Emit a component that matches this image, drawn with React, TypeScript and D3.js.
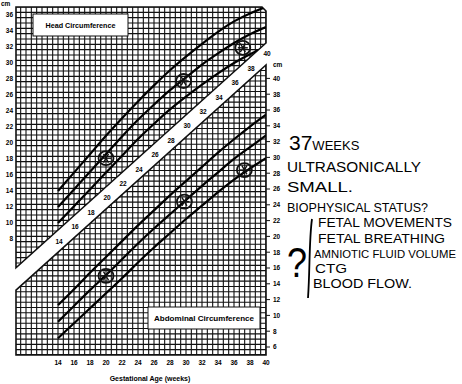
import React from 'react';
import * as d3 from 'd3';

// ---- data ----
const weeks = [14, 16, 18, 20, 22, 24, 26, 28, 30, 32, 34, 36, 38, 40];
const headUpper = [14, 16.3, 18.6, 20.9, 23.1, 25.2, 27.2, 29.1, 30.8, 32.4, 33.9, 35.2, 36.2, 37.0];
const headMiddle = [12, 14.2, 16.4, 18.6, 20.8, 22.9, 24.8, 26.6, 28.2, 29.8, 31.2, 32.5, 33.6, 34.5];
const headLower = [10, 12.1, 14.2, 16.3, 18.4, 20.5, 22.4, 24.2, 25.8, 27.3, 28.7, 30.0, 31.1, 32.0];
const abdUpper = [11.3, 13.3, 15.4, 17.4, 19.4, 21.4, 23.3, 25.2, 27.0, 28.8, 30.6, 32.3, 33.9, 35.4];
const abdMiddle = [9.2, 11.2, 13.2, 15.1, 17.1, 19.1, 21.0, 22.8, 24.6, 26.4, 28.1, 29.8, 31.3, 32.8];
const abdLower = [7.1, 9.0, 10.9, 12.8, 14.7, 16.7, 18.6, 20.4, 22.2, 23.9, 25.6, 27.2, 28.6, 29.9];
const headObsWeeks = [20, 29.7, 37.1];
const headObsCm = [18.1, 27.75, 31.9];
const abdObsWeeks = [20, 29.8, 37.3];
const abdObsCm = [15.0, 24.4, 28.4];
const headTicks = [8, 10, 12, 14, 16, 18, 20, 22, 24, 26, 28, 30, 32, 34, 36];
const abdTicks = [6, 8, 10, 12, 14, 16, 18, 20, 22, 24, 26, 28, 30, 32, 34, 36, 38, 40];
const weekTicks = weeks;
// diagonal cut lines [week, cm]
const headCutWeeks = [8.75, 40];
const headCutCm = [4.4, 32.5];
const abdCutWeeks = [8.75, 40];
const abdCutCm = [13.2, 41.7];

const notes = [
  { t: 'ULTRASONICALLY', x: 287, y: 172, len: 134, fs: 14 },
  { t: 'SMALL.', x: 287, y: 192, len: 66, fs: 14 },
  { t: 'BIOPHYSICAL STATUS?', x: 287, y: 212, len: 141, fs: 13 },
  { t: 'FETAL MOVEMENTS', x: 318, y: 227, len: 134, fs: 12 },
  { t: 'FETAL BREATHING', x: 318, y: 243, len: 127, fs: 12 },
  { t: 'AMNIOTIC FLUID VOLUME', x: 314, y: 258, len: 142, fs: 11.3 },
  { t: 'CTG', x: 315, y: 273, len: 32, fs: 13 },
  { t: 'BLOOD FLOW.', x: 313, y: 288, len: 99, fs: 13 },
];

const W = 462;
const H = 384;

export default function App() {
  const x = d3.scaleLinear().domain([14, 40]).range([58, 266]);
  const yH = d3.scaleLinear().domain([8, 36]).range([239, 15]);
  const yA = d3.scaleLinear().domain([6, 40]).range([347, 78.4]);

  const wL = 8.75;
  const wR = 40;
  const cTop = 37;
  const cBot = 5;
  const hcW = d3.scaleLinear().domain(headCutWeeks).range(headCutCm);
  const acW = d3.scaleLinear().domain(abdCutWeeks).range(abdCutCm);

  const headPoly: [number, number][] = [
    [x(wL), yH(cTop)],
    [x(wR) - 4, yH(cTop)],
    [x(wR), yH(cTop) + 4],
    [x(wR), yH(hcW(wR))],
    [x(wL), yH(hcW(wL))],
  ];
  const abdPoly: [number, number][] = [
    [x(wL), yA(acW(wL))],
    [x(wR), yA(acW(wR))],
    [x(wR), yA(cBot)],
    [x(wL), yA(cBot)],
  ];
  const polyPath = (p: [number, number][]) => 'M' + p.map((q) => q.join(',')).join('L') + 'Z';

  const step = 2 / 3;
  const vLines = d3.range(wR, wL - 0.01, -step);
  const hLinesHead = d3.range(cTop, 3, -step);
  const hLinesAbd = d3.range(cBot, 43, step);

  const lineH = d3
    .line<number>()
    .x((_, i) => x(weeks[i]))
    .y((d) => yH(d))
    .curve(d3.curveNatural);
  const lineA = d3
    .line<number>()
    .x((_, i) => x(weeks[i]))
    .y((d) => yA(d))
    .curve(d3.curveNatural);

  const axisFont = { fontFamily: 'Liberation Sans, Arial, sans-serif', fontWeight: 700 as const };
  const handFont = { fontFamily: 'Liberation Sans, Arial, sans-serif' };

  const marker = (cx: number, cy: number, k: string) => (
    <g key={k}>
      <ellipse cx={cx} cy={cy} rx={7.5} ry={7} fill="none" stroke="#111" strokeWidth={1.8} />
      {[0, 60, 120].map((a) => {
        const r = 5;
        const dx = Math.cos((a * Math.PI) / 180) * r;
        const dy = Math.sin((a * Math.PI) / 180) * r;
        return <line key={a} x1={cx - dx} y1={cy - dy} x2={cx + dx} y2={cy + dy} stroke="#111" strokeWidth={1.4} />;
      })}
    </g>
  );

  return (
    <svg width={W} height={H} style={{ position: 'absolute', left: 0, top: 0, background: '#fff' }}>
      <defs>
        <clipPath id="clipHead">
          <path d={polyPath(headPoly)} />
        </clipPath>
        <clipPath id="clipAbd">
          <path d={polyPath(abdPoly)} />
        </clipPath>
      </defs>
      <rect width={W} height={H} fill="#fff" />

      {/* head grid */}
      <g clipPath="url(#clipHead)" stroke="#111" strokeWidth={1.1}>
        {vLines.map((w, i) => (
          <line key={'hv' + i} x1={x(w)} x2={x(w)} y1={0} y2={H} />
        ))}
        {hLinesHead.map((c, i) => (
          <line key={'hh' + i} x1={0} x2={W} y1={yH(c)} y2={yH(c)} />
        ))}
      </g>
      {/* abdominal grid */}
      <g clipPath="url(#clipAbd)" stroke="#111" strokeWidth={1.1}>
        {vLines.map((w, i) => (
          <line key={'av' + i} x1={x(w)} x2={x(w)} y1={0} y2={H} />
        ))}
        {hLinesAbd.map((c, i) => (
          <line key={'ah' + i} x1={0} x2={W} y1={yA(c)} y2={yA(c)} />
        ))}
      </g>
      <path d={polyPath(headPoly)} fill="none" stroke="#111" strokeWidth={1.6} />
      <path d={polyPath(abdPoly)} fill="none" stroke="#111" strokeWidth={1.6} />

      {/* curves */}
      <g clipPath="url(#clipHead)" fill="none" stroke="#000" strokeWidth={2.2}>
        <path d={lineH(headUpper) || ''} />
        <path d={lineH(headMiddle) || ''} />
        <path d={lineH(headLower) || ''} />
      </g>
      <g clipPath="url(#clipAbd)" fill="none" stroke="#000" strokeWidth={2.2}>
        <path d={lineA(abdUpper) || ''} />
        <path d={lineA(abdMiddle) || ''} />
        <path d={lineA(abdLower) || ''} />
      </g>

      {/* boxes */}
      <rect x={33} y={14} width={95} height={22} fill="#fff" stroke="#111" strokeWidth={1} />
      <text x={80.5} y={27.5} textAnchor="middle" fontSize={7.2} {...axisFont}>
        Head Circumference
      </text>
      <rect x={148} y={307} width={112} height={22} fill="#fff" stroke="#111" strokeWidth={1} />
      <text x={204} y={320.5} textAnchor="middle" fontSize={7.2} {...axisFont} textLength={100} lengthAdjust="spacingAndGlyphs">
        Abdominal Circumference
      </text>

      {/* observations */}
      {headObsWeeks.map((w, i) => marker(x(w), yH(headObsCm[i]), 'ho' + i))}
      {abdObsWeeks.map((w, i) => marker(x(w), yA(abdObsCm[i]), 'ao' + i))}

      {/* left axis (head) */}
      <text x={1} y={6} fontSize={6.5} {...axisFont}>cm</text>
      {headTicks.map((c) => (
        <text key={'lt' + c} x={13} y={yH(c) + 2.4} textAnchor="end" fontSize={6.5} {...axisFont}>
          {c}
        </text>
      ))}
      {/* right axis (abdominal) */}
      <text x={273} y={67} fontSize={6.5} {...axisFont}>cm</text>
      {abdTicks.map((c) => (
        <g key={'rt' + c}>
          <line x1={x(40)} x2={x(40) + 4} y1={yA(c)} y2={yA(c)} stroke="#111" strokeWidth={1} />
          <text x={273} y={yA(c) + 2.4} fontSize={6.5} {...axisFont}>
            {c}
          </text>
        </g>
      ))}
      {/* bottom axis */}
      {weekTicks.map((w) => (
        <text key={'bt' + w} x={x(w)} y={365} textAnchor="middle" fontSize={6.5} {...axisFont}>
          {w}
        </text>
      ))}
      <text x={150} y={381} textAnchor="middle" fontSize={7} {...axisFont}>
        Gestational Age (weeks)
      </text>
      {/* band labels */}
      {weekTicks.map((w) => {
        const ym = (yH(hcW(w)) + yA(acW(w))) / 2;
        return (
          <text key={'bl' + w} x={x(w) + 1} y={ym + 2.4} textAnchor="middle" fontSize={6.5} {...axisFont}>
            {w}
          </text>
        );
      })}

      {/* handwritten notes */}
      <text x={289} y={150} {...handFont} fill="#000">
        <tspan fontSize={21}>37</tspan>
        <tspan fontSize={13}>WEEKS</tspan>
      </text>
      {notes.map((n) => (
        <text key={n.t} x={n.x} y={n.y} fontSize={n.fs} {...handFont} textLength={n.len} lengthAdjust="spacingAndGlyphs" fill="#000">
          {n.t}
        </text>
      ))}
      <text x={287} y={277} fontSize={42} {...handFont} fill="#000" textLength={20} lengthAdjust="spacingAndGlyphs">?</text>
      <path d="M312,219 C309,240 310,270 308,298" fill="none" stroke="#000" strokeWidth={1.8} />
    </svg>
  );
}
